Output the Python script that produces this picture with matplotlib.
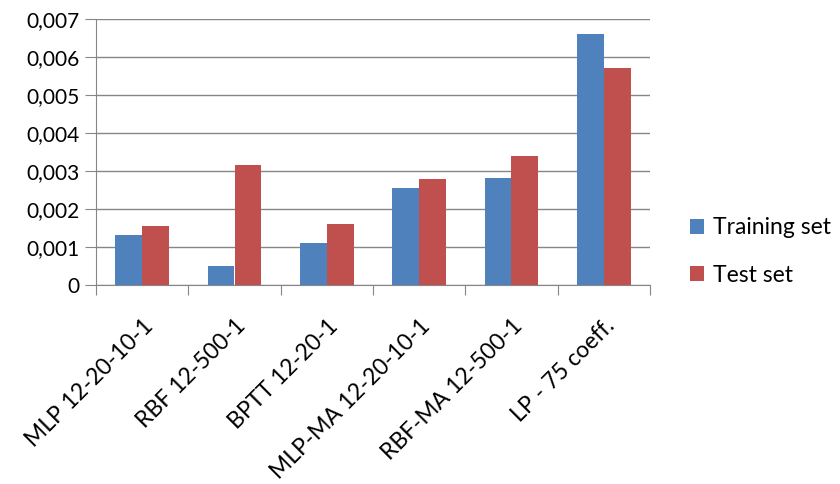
import numpy as np
from matplotlib import pyplot as plt
from matplotlib.ticker import FuncFormatter

plt.rcParams['font.family'] = ['Lato', 'DejaVu Sans']

models = ["MLP 12-20-10-1", "RBF 12-500-1", "BPTT 12-20-1",
          "MLP-MA 12-20-10-1", "RBF-MA 12-500-1", "LP - 75 coeff."]
training = [0.00131, 0.00051, 0.00111, 0.00254, 0.00281, 0.00661]
test = [0.00154, 0.00317, 0.00161, 0.00278, 0.00339, 0.00572]

fig = plt.figure(figsize=(8.4, 4.84), dpi=100)
ax = fig.add_axes([96 / 840, 1 - 285 / 484, 554 / 840, 266 / 484])

x = np.arange(len(models))
width = 0.29
ax.bar(x - width / 2, training, width=width, color='#4F81BD', label="Training set", zorder=3)
ax.bar(x + width / 2, test, width=width, color='#C0504D', label="Test set", zorder=3)

ax.set_xlim(-0.5, len(models) - 0.5)
ax.set_ylim(0, 0.007)
ax.set_yticks(np.arange(0, 0.0071, 0.001))
ax.yaxis.set_major_formatter(FuncFormatter(
    lambda v, p: "0" if abs(v) < 1e-12 else ("%.3f" % v).replace(".", ",")))
ax.grid(axis='y', color='#868686', linewidth=1, zorder=0)

# category ticks sit between the groups, labels at the centres
ax.set_xticks(np.arange(-0.5, len(models), 1))
ax.set_xticklabels([])
ax.set_xticks(x, minor=True)
ax.set_xticklabels(models, minor=True, rotation=45, ha='right',
                   rotation_mode='anchor', fontsize=16.5, color='#000000')
ax.tick_params(axis='x', which='minor', length=0, pad=22)
ax.tick_params(axis='x', which='major', length=7, color='#868686', direction='out')
ax.tick_params(axis='y', length=8, color='#868686', labelsize=15, pad=4)

for side in ['top', 'right']:
    ax.spines[side].set_visible(False)
for side in ['left', 'bottom']:
    ax.spines[side].set_color('#868686')

ax.legend(loc='center left', bbox_to_anchor=(1.035, 0.126), frameon=False,
          fontsize=16.5, handlelength=0.62, handleheight=0.62,
          handletextpad=0.4, labelspacing=1.15)

fig.savefig("out.png", dpi=100)
